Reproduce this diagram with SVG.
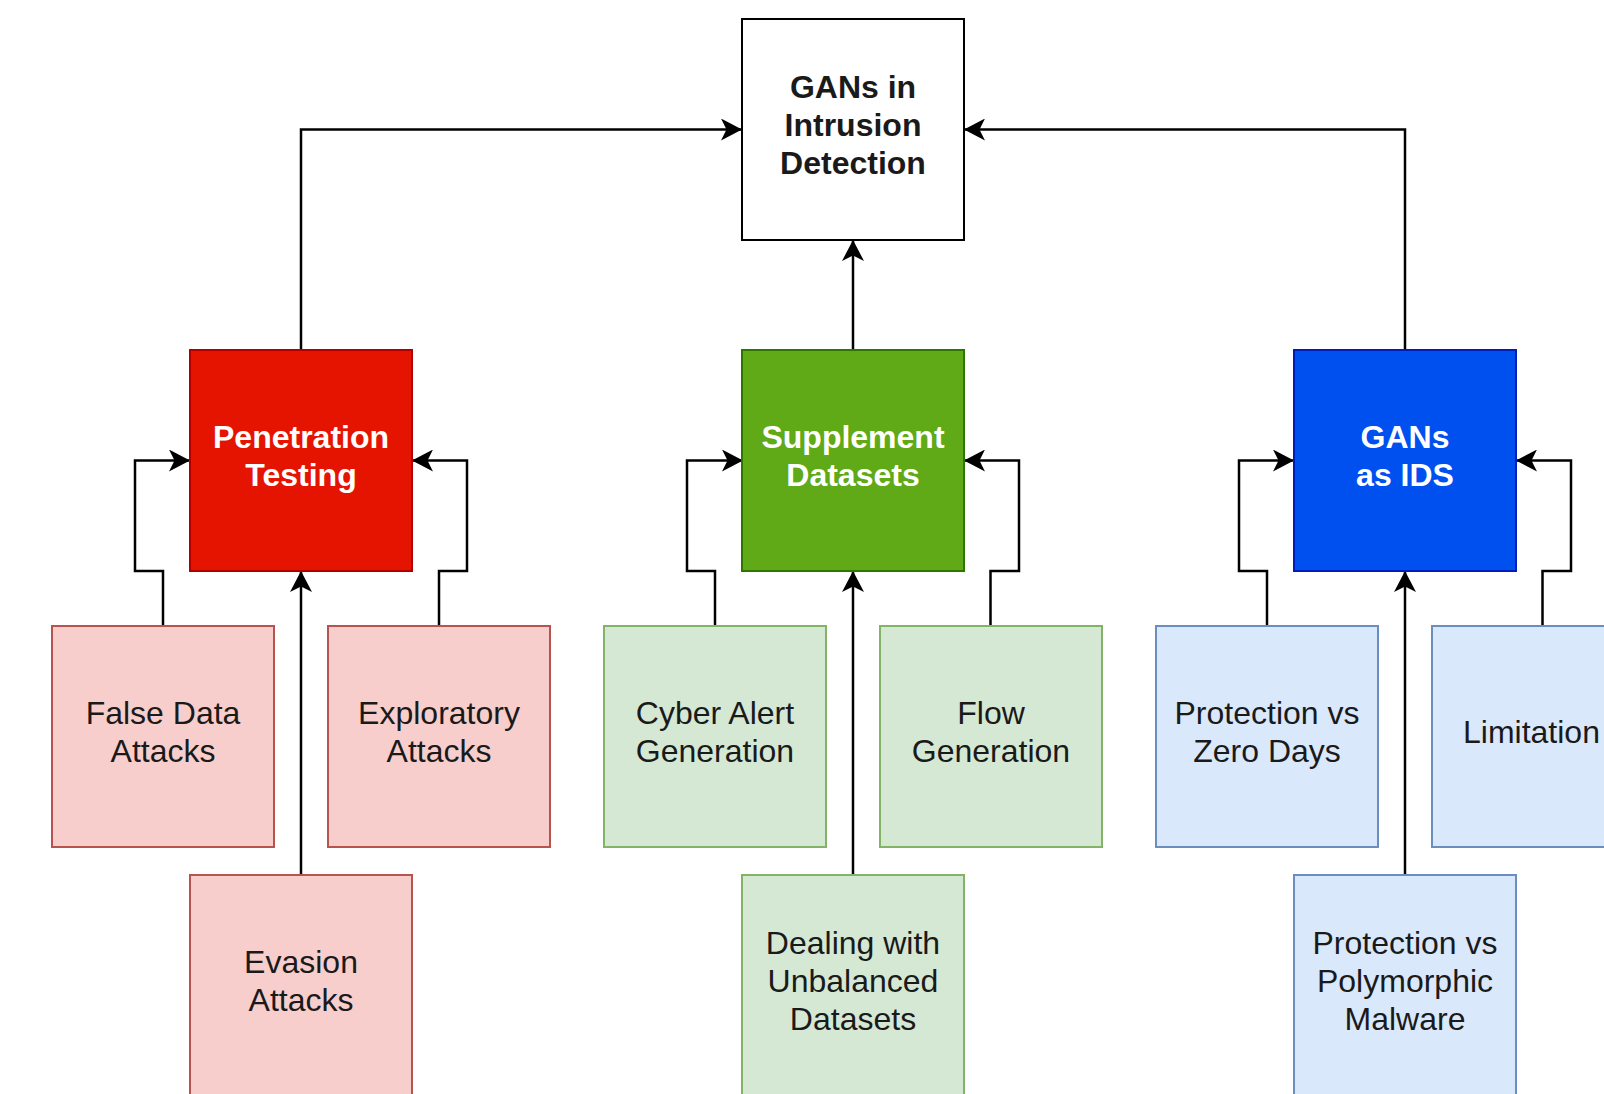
<svg xmlns="http://www.w3.org/2000/svg" width="1604" height="1094" viewBox="0 0 1604 1094">
<style>
text{font-family:"Liberation Sans",Arial,Helvetica,sans-serif;font-size:32px;text-anchor:middle}
.main text{font-weight:bold;fill:#ffffff}
.sub text{fill:#1a1a1a}
#top text{font-weight:bold;fill:#1a1a1a}
rect{stroke-width:2}
.red rect{fill:#e51400;stroke:#b20000}
.green rect{fill:#60a917;stroke:#2d7600}
.blue rect{fill:#0050ef;stroke:#001dbc}
.lred rect{fill:#f8cecc;stroke:#b85450}
.lgreen rect{fill:#d5e8d4;stroke:#82b366}
.lblue rect{fill:#dae8fc;stroke:#6c8ebf}
#connectors path{fill:none;stroke:#000;stroke-width:2.5;marker-end:url(#arr)}
</style>
<defs>
<marker id="arr" markerUnits="userSpaceOnUse" markerWidth="22" markerHeight="22" refX="21" refY="11" orient="auto" viewBox="0 0 22 22">
<path d="M0,0 L21,11 L0,22 L5.5,11 Z" fill="#000" stroke="none"/>
</marker>
</defs>
<rect width="1604" height="1094" fill="#ffffff"/>
<g id="connectors">
<path d="M301,350 V129.5 H742"/>
<path d="M1405,350 V129.5 H964"/>
<path d="M853,350 V240"/>
<path d="M163,626 V571 H135 V460.5 H190"/>
<path d="M439,626 V571 H467 V460.5 H412"/>
<path d="M301,875 V571"/>
<path d="M715,626 V571 H687 V460.5 H743"/>
<path d="M990.5,626 V571 H1019 V460.5 H964"/>
<path d="M853,875 V571"/>
<path d="M1267,626 V571 H1239 V460.5 H1294"/>
<path d="M1542.5,626 V571 H1571 V460.5 H1516"/>
<path d="M1405,875 V571"/>
</g>
<g id="top"><rect x="742" y="19" width="222" height="221" fill="#ffffff" stroke="#000000"/>
<text x="853" y="97.6">GANs in</text><text x="853" y="136">Intrusion</text><text x="853" y="174.4">Detection</text></g>
<g id="pentest" class="main red"><rect x="190" y="350" width="222" height="221"/>
<text x="301" y="447.8">Penetration</text><text x="301" y="486.2">Testing</text></g>
<g id="supplement" class="main green"><rect x="742" y="350" width="222" height="221"/>
<text x="853" y="447.8">Supplement</text><text x="853" y="486.2">Datasets</text></g>
<g id="gansids" class="main blue"><rect x="1294" y="350" width="222" height="221"/>
<text x="1405" y="447.8">GANs</text><text x="1405" y="486.2">as IDS</text></g>
<g id="falsedata" class="sub lred"><rect x="52" y="626" width="222" height="221"/>
<text x="163" y="723.8">False Data</text><text x="163" y="762.2">Attacks</text></g>
<g id="exploratory" class="sub lred"><rect x="328" y="626" width="222" height="221"/>
<text x="439" y="723.8">Exploratory</text><text x="439" y="762.2">Attacks</text></g>
<g id="evasion" class="sub lred"><rect x="190" y="875" width="222" height="221"/>
<text x="301" y="972.8">Evasion</text><text x="301" y="1011.2">Attacks</text></g>
<g id="cyberalert" class="sub lgreen"><rect x="604" y="626" width="222" height="221"/>
<text x="715" y="723.8">Cyber Alert</text><text x="715" y="762.2">Generation</text></g>
<g id="flow" class="sub lgreen"><rect x="880" y="626" width="222" height="221"/>
<text x="991" y="723.8">Flow</text><text x="991" y="762.2">Generation</text></g>
<g id="unbalanced" class="sub lgreen"><rect x="742" y="875" width="222" height="221"/>
<text x="853" y="953.6">Dealing with</text><text x="853" y="992">Unbalanced</text><text x="853" y="1030.4">Datasets</text></g>
<g id="zerodays" class="sub lblue"><rect x="1156" y="626" width="222" height="221"/>
<text x="1267" y="723.8">Protection vs</text><text x="1267" y="762.2">Zero Days</text></g>
<g id="limitation" class="sub lblue"><rect x="1432" y="626" width="222" height="221"/>
<text x="1463" y="743" style="text-anchor:start">Limitation</text></g>
<g id="polymorphic" class="sub lblue"><rect x="1294" y="875" width="222" height="221"/>
<text x="1405" y="953.6">Protection vs</text><text x="1405" y="992">Polymorphic</text><text x="1405" y="1030.4">Malware</text></g>
</svg>
